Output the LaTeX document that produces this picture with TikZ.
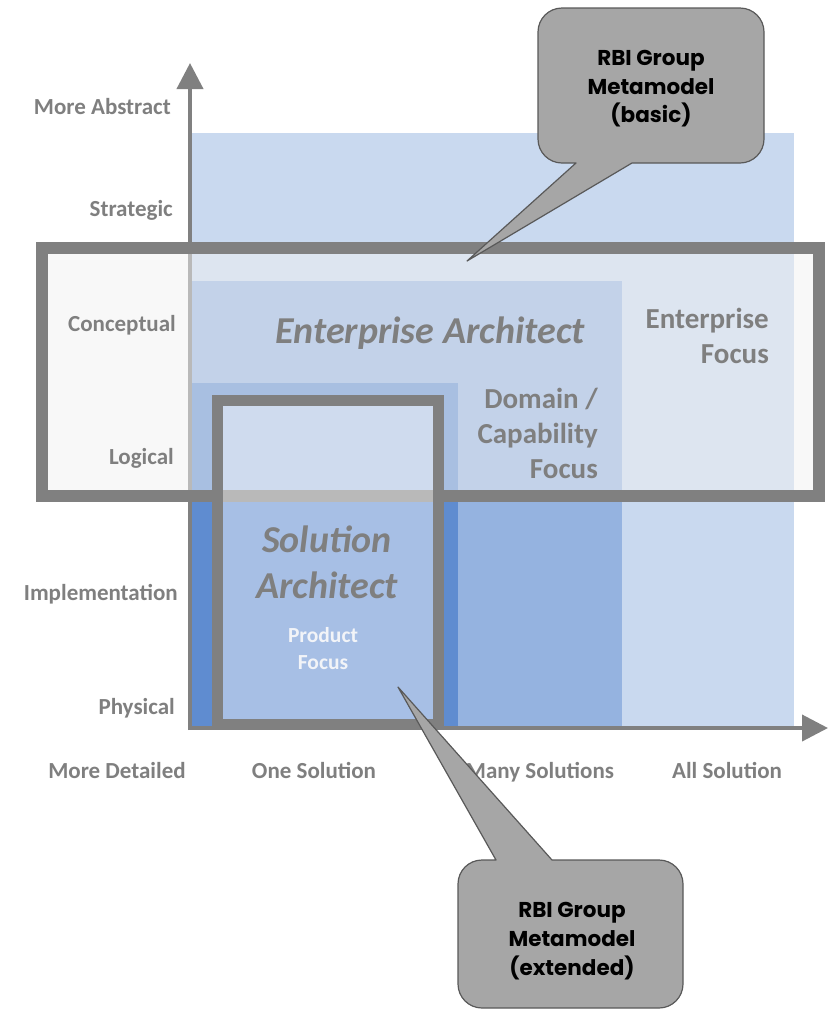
\documentclass[tikz,border=0pt]{standalone}
\usepackage{fontspec}
\setmainfont{Carlito}
\newfontfamily\calloutfont{Poppins}
\usetikzlibrary{arrows.meta}
\definecolor{labelgray}{HTML}{7F7F7F}
\definecolor{framegray}{HTML}{808080}
\definecolor{bluelight}{HTML}{C9D9EF}
\definecolor{bluemid}{HTML}{95B3E0}
\definecolor{bluedark}{HTML}{5F8CD0}
\definecolor{calloutfill}{HTML}{A6A6A6}
\definecolor{calloutline}{HTML}{595959}
\definecolor{overlaygray}{HTML}{F2F2F2}
\definecolor{productwhite}{HTML}{F2F4F8}
\begin{document}
\begin{tikzpicture}[x=1pt,y=-1pt,
  axislabel/.style={font=\fontsize{23}{27}\selectfont\bfseries, text=labelgray, inner sep=0pt},
  focuslabel/.style={font=\fontsize{29}{34}\selectfont\bfseries, text=labelgray, inner sep=0pt, anchor=base east},
  rolelabel/.style={font=\fontsize{38}{44}\selectfont\bfseries\itshape, text=labelgray, inner sep=0pt, anchor=base},
  productlabel/.style={font=\fontsize{21.5}{25}\selectfont\bfseries, text=productwhite, inner sep=0pt, anchor=base},
  callouttext/.style={font=\calloutfont\bfseries\fontsize{21.5}{24}\selectfont, text=black, inner sep=0pt, anchor=base},
  axisline/.style={draw=framegray, line width=4pt, -{Triangle[length=26pt,width=26pt]}},
  metaframe/.style={draw=framegray, fill opacity=0.5},
  calloutshape/.style={fill=calloutfill, draw=calloutline, line width=1.2pt, line join=round}
]
\path[use as bounding box] (0,0) rectangle (828,1013);

% background regions
\fill[bluelight] (190,133) rectangle (794,728);
\fill[bluemid] (190,281) rectangle (622,728);
\fill[bluedark] (190,383) rectangle (458,728);

% axes
\coordinate (O) at (190,730);
\coordinate (Oh) at (188,728);
\coordinate (ytip) at (190,63);
\coordinate (xtip) at (828,728);
\draw[axisline] (O) -- (ytip);
\draw[axisline] (Oh) -- (xtip);

% basic metamodel frame
\draw[metaframe, line width=12pt, fill=overlaygray, fill opacity=0.5] (42,247.5) rectangle (819,495.5);
% extended metamodel frame
\draw[metaframe, line width=11pt, fill=white, fill opacity=0.45] (217.5,400) rectangle (438,724);

% vertical axis labels
\node[axislabel, anchor=base east] (abs) at (171,114) {More Abstract};
\node[axislabel, anchor=base east] (str) at (173,216) {Strategic};
\node[axislabel, anchor=base east] (con) at (176,331) {Conceptual};
\node[axislabel, anchor=base east] (log) at (174,464) {Logical};
\node[axislabel, anchor=base east] (imp) at (178,600) {Implementation};
\node[axislabel, anchor=base east] (phy) at (175,714) {Physical};

% horizontal axis labels
\node[axislabel, anchor=base] (det) at (117,778) {More Detailed};
\node[axislabel, anchor=base] (one) at (314,778) {One Solution};
\node[axislabel, anchor=base] (many) at (540,778) {Many Solutions};
\node[axislabel, anchor=base] (all) at (727,778) {All Solution};

% region labels
\node[rolelabel] (ea) at (430,343) {Enterprise Architect};
\node[focuslabel] (ef1) at (769,328) {Enterprise};
\node[focuslabel] (ef2) at (769,363) {Focus};
\node[focuslabel] (dc1) at (598,408) {Domain /};
\node[focuslabel] (dc2) at (598,443) {Capability};
\node[focuslabel] (dc3) at (598,478) {Focus};
\node[rolelabel] (sa1) at (327,552) {Solution};
\node[rolelabel] (sa2) at (327,598) {Architect};
\node[productlabel] (pf1) at (323,642) {Product};
\node[productlabel] (pf2) at (323,669) {Focus};

% callout basic
\draw[calloutshape] (562,8) -- (740,8) arc[start angle=-90,end angle=0,radius=24]
  -- (764,139) arc[start angle=0,end angle=90,radius=24]
  -- (632,163) -- (467,261) -- (576,163)
  -- (562,163) arc[start angle=90,end angle=180,radius=24]
  -- (538,32) arc[start angle=180,end angle=270,radius=24] -- cycle;
\node[callouttext] (cb1) at (651,65) {RBI Group};
\node[callouttext] (cb2) at (651,94) {Metamodel};
\node[callouttext] (cb3) at (651,122) {(basic)};

% callout extended
\draw[calloutshape] (482,860) -- (496,860) -- (398,687) -- (552,860)
  -- (659,860) arc[start angle=-90,end angle=0,radius=24]
  -- (683,984) arc[start angle=0,end angle=90,radius=24]
  -- (482,1008) arc[start angle=90,end angle=180,radius=24]
  -- (458,884) arc[start angle=180,end angle=270,radius=24] -- cycle;
\node[callouttext] (ce1) at (572,917) {RBI Group};
\node[callouttext] (ce2) at (572,946) {Metamodel};
\node[callouttext] (ce3) at (572,975) {(extended)};
\end{tikzpicture}
\end{document}
